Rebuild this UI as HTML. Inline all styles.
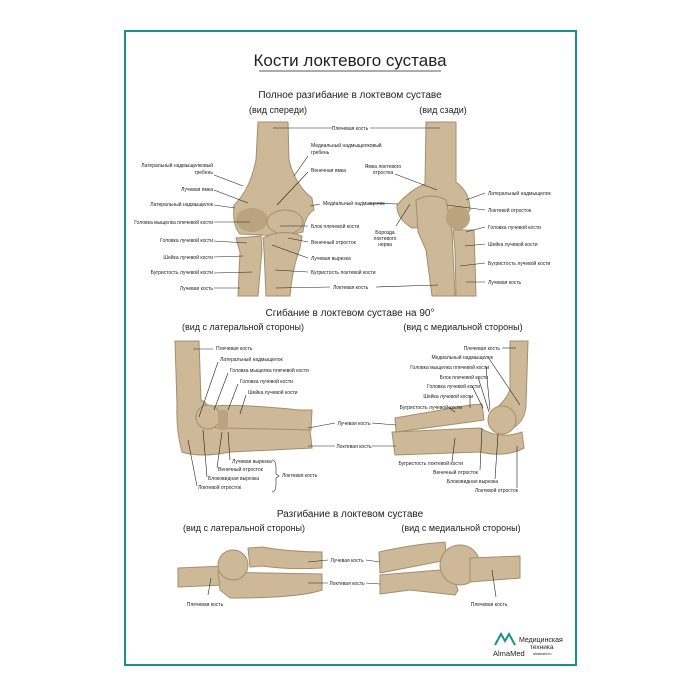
<!DOCTYPE html>
<html><head><meta charset="utf-8"><style>
html,body{margin:0;padding:0;background:#fff;}
svg{display:block;}
text{font-family:"Liberation Sans",sans-serif;fill:#222;}
.s{font-size:5px;}
.h{font-size:10px;}
.b{fill:#cdb998;stroke:#a48e6c;stroke-width:1;}
.d{fill:#b9a47f;}
.l{stroke:#222;stroke-width:0.6;fill:none;}
</style></head><body>
<svg width="700" height="700" viewBox="0 0 700 700" xmlns="http://www.w3.org/2000/svg">
<rect x="0" y="0" width="700" height="700" fill="#fff"/>
<rect x="125" y="31" width="451" height="634" fill="#fff" stroke="#17918a" stroke-width="2"/>

<text x="350" y="66" text-anchor="middle" style="font-size:17px">Кости локтевого сустава</text>
<line x1="259" y1="71" x2="441" y2="71" stroke="#222" stroke-width="0.8"/>
<text x="350" y="98" text-anchor="middle" class="h">Полное разгибание в локтевом суставе</text>
<text x="278" y="113" text-anchor="middle" class="h" style="font-size:9px">(вид спереди)</text>
<text x="443" y="113" text-anchor="middle" class="h" style="font-size:9px">(вид сзади)</text>

<!-- front view -->
<path class="b" d="M258,122 L288,122 L289,160 Q295,185 312,198 L314,210 Q305,215 303,232 L285,236 L240,234 Q232,225 234,205 Q250,190 256,160 Z"/>
<ellipse class="d" cx="252" cy="220" rx="16" ry="12"/>
<ellipse class="b" cx="285" cy="222" rx="18" ry="12"/>
<path class="b" d="M236,238 L261,236 L262,250 L258,296 L238,296 L240,252 Z"/>
<path class="b" d="M263,238 Q282,228 302,236 L300,248 Q292,270 290,296 L266,296 L264,250 Z"/>
<!-- back view -->
<path class="b" d="M426,122 L456,122 L456,182 Q470,192 470,210 Q462,222 450,226 L412,228 Q396,218 397,205 Q410,190 425,184 Z"/>
<path class="b" d="M416,200 Q432,192 446,200 L452,232 L455,296 L432,296 L426,250 L418,232 Z"/>
<ellipse class="d" cx="458" cy="218" rx="12" ry="12"/>
<path class="b" d="M453,230 L474,230 L476,296 L456,296 L455,250 Z"/>

<g class="l">
<line x1="273" y1="128" x2="332" y2="128"/><line x1="370" y1="128" x2="440" y2="128"/>
<line x1="214" y1="175" x2="243" y2="186"/><line x1="214" y1="190" x2="248" y2="203"/>
<line x1="214" y1="205" x2="235" y2="208"/><line x1="214" y1="222" x2="250" y2="222"/>
<line x1="214" y1="241" x2="247" y2="243"/><line x1="214" y1="257" x2="243" y2="256"/>
<line x1="214" y1="273" x2="252" y2="272"/><line x1="214" y1="288" x2="240" y2="288"/>
<line x1="308" y1="156" x2="294" y2="176"/><line x1="308" y1="172" x2="277" y2="205"/>
<line x1="320" y1="204" x2="310" y2="206"/><line x1="308" y1="226" x2="280" y2="226"/>
<line x1="308" y1="242" x2="288" y2="238"/><line x1="308" y1="258" x2="272" y2="245"/>
<line x1="308" y1="272" x2="275" y2="270"/><line x1="330" y1="287" x2="276" y2="288"/>
<line x1="376" y1="287" x2="438" y2="285"/>
<line x1="395" y1="174" x2="437" y2="190"/><line x1="368" y1="203" x2="398" y2="204"/>
<line x1="396" y1="226" x2="410" y2="204"/>
<line x1="485" y1="193" x2="466" y2="200"/><line x1="485" y1="210" x2="447" y2="205"/>
<line x1="485" y1="227" x2="466" y2="232"/><line x1="485" y1="244" x2="465" y2="246"/>
<line x1="485" y1="263" x2="460" y2="266"/><line x1="485" y1="282" x2="466" y2="282"/>
</g>
<g class="s">
<text x="350" y="130" text-anchor="middle">Плечевая кость</text>
<text x="213" y="167" text-anchor="end">Латеральный надмыщелковый</text>
<text x="213" y="174" text-anchor="end">гребень</text>
<text x="213" y="191" text-anchor="end">Лучевая ямка</text>
<text x="213" y="206" text-anchor="end">Латеральный надмыщелок</text>
<text x="213" y="224" text-anchor="end">Головка мыщелка плечевой кости</text>
<text x="213" y="242" text-anchor="end">Головка лучевой кости</text>
<text x="213" y="259" text-anchor="end">Шейка лучевой кости</text>
<text x="213" y="274" text-anchor="end">Бугристость лучевой кости</text>
<text x="213" y="290" text-anchor="end">Лучевая кость</text>
<text x="311" y="147">Медиальный надмыщелковый</text>
<text x="311" y="154">гребень</text>
<text x="311" y="172">Венечная ямка</text>
<text x="323" y="205">Медиальный надмыщелок</text>
<text x="311" y="228">Блок плечевой кости</text>
<text x="311" y="244">Венечный отросток</text>
<text x="311" y="260">Лучевая вырезка</text>
<text x="311" y="274">Бугристость локтевой кости</text>
<text x="333" y="289">Локтевая кость</text>
<text x="383" y="168" text-anchor="middle">Ямка локтевого</text>
<text x="383" y="174" text-anchor="middle">отростка</text>
<text x="385" y="234" text-anchor="middle">Борозда</text>
<text x="385" y="240" text-anchor="middle">локтевого</text>
<text x="385" y="246" text-anchor="middle">нерва</text>
<text x="488" y="195">Латеральный надмыщелок</text>
<text x="488" y="212">Локтевой отросток</text>
<text x="488" y="229">Головка лучевой кости</text>
<text x="488" y="246">Шейка лучевой кости</text>
<text x="488" y="265">Бугристость лучевой кости</text>
<text x="488" y="284">Лучевая кость</text>
</g>

<!-- section 2 -->
<text x="350" y="316" text-anchor="middle" class="h">Сгибание в локтевом суставе на 90°</text>
<text x="243" y="330" text-anchor="middle" class="h" style="font-size:9px">(вид с латеральной стороны)</text>
<text x="463" y="330" text-anchor="middle" class="h" style="font-size:9px">(вид с медиальной стороны)</text>

<path class="b" d="M175,341 L199,341 L201,400 Q212,405 214,425 L310,430 L312,448 L230,452 Q200,458 182,452 Q176,430 177,405 Z"/>
<path class="b" d="M205,408 Q220,402 300,410 L312,410 L311,430 L225,428 Q210,430 205,418 Z"/>
<circle class="b" cx="208" cy="417" r="12"/>
<rect class="d" x="218" y="410" width="10" height="20" rx="3"/>
<path class="b" d="M392,432 L480,428 Q500,440 522,432 L524,448 Q505,458 480,452 L395,455 Z"/>
<path class="b" d="M395,418 L470,405 L482,404 L484,420 L470,422 L396,432 Z"/>
<path class="b" d="M510,341 L528,341 L526,405 Q525,425 505,432 Q490,428 492,412 Q505,402 510,390 Z"/>
<circle class="b" cx="502" cy="420" r="14"/>

<g class="l">
<line x1="193" y1="349" x2="213" y2="349"/><line x1="218" y1="362" x2="199" y2="417"/>
<line x1="228" y1="373" x2="214" y2="410"/><line x1="238" y1="384" x2="228" y2="410"/>
<line x1="246" y1="395" x2="240" y2="414"/>
<line x1="335" y1="423" x2="308" y2="428"/><line x1="372" y1="423" x2="396" y2="425"/>
<line x1="335" y1="446" x2="308" y2="446"/><line x1="372" y1="446" x2="396" y2="446"/>
<line x1="230" y1="460" x2="228" y2="432"/><line x1="217" y1="468" x2="222" y2="432"/>
<line x1="207" y1="477" x2="203" y2="430"/><line x1="197" y1="486" x2="188" y2="440"/>
<path d="M272,460 Q276,460 276,468 L276,474 L279,476 L276,478 L276,484 Q276,492 272,492"/>
<line x1="502" y1="348" x2="516" y2="348"/><line x1="488" y1="357" x2="520" y2="405"/>
<line x1="486" y1="367" x2="490" y2="410"/><line x1="478" y1="377" x2="489" y2="412"/>
<line x1="472" y1="386" x2="483" y2="408"/><line x1="470" y1="396" x2="470" y2="408"/>
<line x1="448" y1="407" x2="455" y2="412"/>
<line x1="452" y1="462" x2="455" y2="438"/><line x1="480" y1="470" x2="482" y2="428"/>
<line x1="495" y1="479" x2="498" y2="434"/><line x1="517" y1="488" x2="517" y2="446"/>
</g>
<g class="s">
<text x="216" y="350">Плечевая кость</text>
<text x="220" y="361">Латеральный надмыщелок</text>
<text x="230" y="372">Головка мыщелка плечевой кости</text>
<text x="240" y="383">Головка лучевой кости</text>
<text x="248" y="394">Шейка лучевой кости</text>
<text x="354" y="425" text-anchor="middle">Лучевая кость</text>
<text x="354" y="448" text-anchor="middle">Локтевая кость</text>
<text x="232" y="463">Лучевая вырезка</text>
<text x="218" y="471">Венечный отросток</text>
<text x="208" y="480">Блоковидная вырезка</text>
<text x="198" y="489">Локтевой отросток</text>
<text x="282" y="477">Локтевая кость</text>
<text x="500" y="350" text-anchor="end">Плечевая кость</text>
<text x="493" y="359" text-anchor="end">Медиальный надмыщелок</text>
<text x="489" y="369" text-anchor="end">Головка мыщелка плечевой кости</text>
<text x="488" y="379" text-anchor="end">Блок плечевой кости</text>
<text x="480" y="388" text-anchor="end">Головка лучевой кости</text>
<text x="473" y="398" text-anchor="end">Шейка лучевой кости</text>
<text x="462" y="409" text-anchor="end">Бугристость лучевой кости</text>
<text x="463" y="465" text-anchor="end">Бугристость локтевой кости</text>
<text x="478" y="474" text-anchor="end">Венечный отросток</text>
<text x="498" y="483" text-anchor="end">Блоковидная вырезка</text>
<text x="518" y="492" text-anchor="end">Локтевой отросток</text>
</g>

<!-- section 3 -->
<text x="350" y="517" text-anchor="middle" class="h">Разгибание в локтевом суставе</text>
<text x="244" y="531" text-anchor="middle" class="h" style="font-size:9px">(вид с латеральной стороны)</text>
<text x="461" y="531" text-anchor="middle" class="h" style="font-size:9px">(вид с медиальной стороны)</text>

<path class="b" d="M178,568 L225,566 L225,585 L178,587 Z"/>
<path class="b" d="M218,572 L322,574 L322,590 Q300,598 230,598 L220,590 Z"/>
<circle class="b" cx="233" cy="565" r="15"/>
<path class="b" d="M248,548 L262,547 Q290,552 322,552 L322,568 Q290,570 262,566 L250,567 Z"/>
<path class="b" d="M379,552 Q410,545 435,543 L445,542 L447,560 L380,573 Z"/>
<path class="b" d="M380,575 L440,570 Q450,565 458,590 L455,595 L410,590 L380,594 Z"/>
<circle class="b" cx="460" cy="565" r="20"/>
<path class="b" d="M470,558 L520,556 L520,578 L470,582 Z"/>

<g class="l">
<line x1="308" y1="562" x2="328" y2="560"/><line x1="366" y1="560" x2="380" y2="562"/>
<line x1="308" y1="583" x2="328" y2="583"/><line x1="366" y1="583" x2="380" y2="584"/>
<line x1="208" y1="595" x2="211" y2="578"/><line x1="496" y1="597" x2="492" y2="570"/>
</g>
<g class="s">
<text x="347" y="562" text-anchor="middle">Лучевая кость</text>
<text x="347" y="585" text-anchor="middle">Локтевая кость</text>
<text x="205" y="606" text-anchor="middle">Плечевая кость</text>
<text x="489" y="606" text-anchor="middle">Плечевая кость</text>
</g>

<!-- logo -->
<path d="M495,645 L501,634 L505,641 L509,634 L515,645" fill="none" stroke="#17918a" stroke-width="2"/>
<text x="493" y="656" style="font-size:7.5px">AlmaMed</text>
<text x="519" y="642" style="font-size:7px">Медицинская</text>
<text x="530" y="649" style="font-size:6.5px">техника</text>
<text x="533" y="655" style="font-size:3.5px">almamed.ru</text>
</svg>
</body></html>
